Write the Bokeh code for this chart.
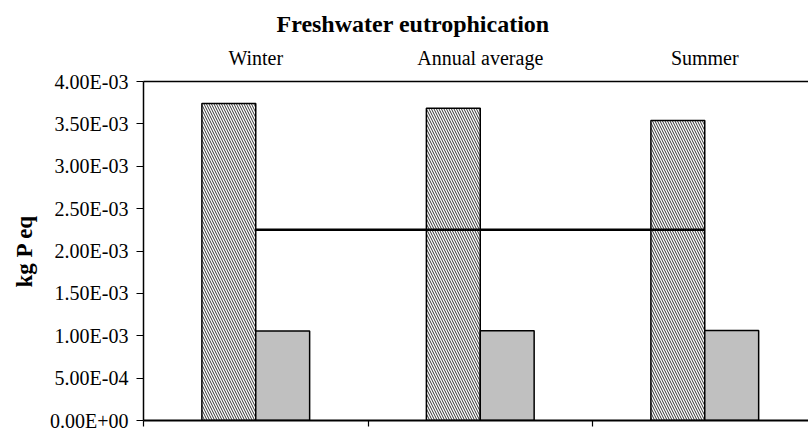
from bokeh.plotting import figure
from bokeh.models import (ColumnDataSource, Range1d, FixedTicker, LinearAxis,
                          CustomJSTickFormatter, Title)
from bokeh.transform import dodge
from bokeh.embed import file_html
from bokeh.resources import INLINE

categories = ["Winter", "Annual average", "Summer"]
hatched_vals = [3.74e-3, 3.685e-3, 3.54e-3]
gray_vals = [1.055e-3, 1.06e-3, 1.063e-3]
line_vals = [2.25e-3, 2.25e-3, 2.25e-3]
y_ticks = [0.0, 0.0005, 0.001, 0.0015, 0.002, 0.0025, 0.003, 0.0035, 0.004]

xc = [i + 0.5 for i in range(len(categories))]
src = ColumnDataSource(dict(x=xc, cat=categories, h=hatched_vals, g=gray_vals, m=line_vals))

FONT = "Liberation Serif"

p = figure(width=808, height=434, x_range=Range1d(0, 2.962), y_range=Range1d(0, 0.004),
           output_backend="svg", toolbar_location=None, x_axis_location=None,
           min_border_left=143, min_border_right=0, min_border_top=81, min_border_bottom=14)
p.outline_line_color = None
p.grid.visible = False
p.background_fill_color = "white"
p.border_fill_color = "white"

p.title = Title(text="Freshwater eutrophication", align="left", offset=133,
                text_font=FONT, text_font_size="24px", text_font_style="bold",
                text_color="black", standoff=14)

p.vbar(x=dodge("x", -0.12, range=p.x_range), top="h", width=0.24, source=src,
       fill_color="white", line_color="black", line_width=1.5,
       hatch_pattern="\\", hatch_color="#333333", hatch_scale=5, hatch_weight=1.0)
p.vbar(x=dodge("x", 0.12, range=p.x_range), top="g", width=0.24, source=src,
       fill_color="#c0c0c0", line_color="black", line_width=1.5)
p.line(x="x", y="m", source=src, line_color="black", line_width=2.5)

# left axis
ya = p.yaxis[0]
ya.ticker = FixedTicker(ticks=y_ticks)
ya.formatter = CustomJSTickFormatter(code="""
const s = tick.toExponential(2).split('e');
let e = parseInt(s[1]);
const sign = e < 0 ? '-' : '+';
e = Math.abs(e);
return s[0] + 'E' + sign + (e < 10 ? '0' + e : String(e));
""")
ya.minor_tick_line_color = None
ya.major_tick_in = 0
ya.major_tick_out = 7
ya.major_label_standoff = 8
ya.major_label_text_font = FONT
ya.major_label_text_font_size = "20px"
ya.major_label_text_color = "black"
ya.axis_line_width = 1.5
ya.major_tick_line_width = 1.2
ya.axis_label = "kg P eq"
ya.axis_label_text_font = FONT
ya.axis_label_text_font_size = "23px"
ya.axis_label_text_font_style = "bold"
ya.axis_label_text_color = "black"
ya.axis_label_standoff = 10

# bottom axis: category boundary ticks, no labels
bottom = LinearAxis(ticker=FixedTicker(ticks=[0, 1, 2, 3]),
                    formatter=CustomJSTickFormatter(code="return '';"))
bottom.major_label_standoff = 0
bottom.minor_tick_line_color = None
bottom.major_tick_in = 0
bottom.major_tick_out = 6
bottom.axis_line_width = 2
bottom.major_tick_line_width = 1.2
p.add_layout(bottom, "below")

# top axis: category names, plus the top border line
top = LinearAxis(ticker=FixedTicker(ticks=xc),
                 major_label_overrides={x: c for x, c in zip(xc, categories)})
top.minor_tick_line_color = None
top.major_tick_line_color = None
top.major_label_standoff = 7
top.major_label_text_font = FONT
top.major_label_text_font_size = "20px"
top.major_label_text_color = "black"
top.axis_line_width = 1.5
p.add_layout(top, "above")

open("out.html", "w").write(file_html(p, INLINE))
